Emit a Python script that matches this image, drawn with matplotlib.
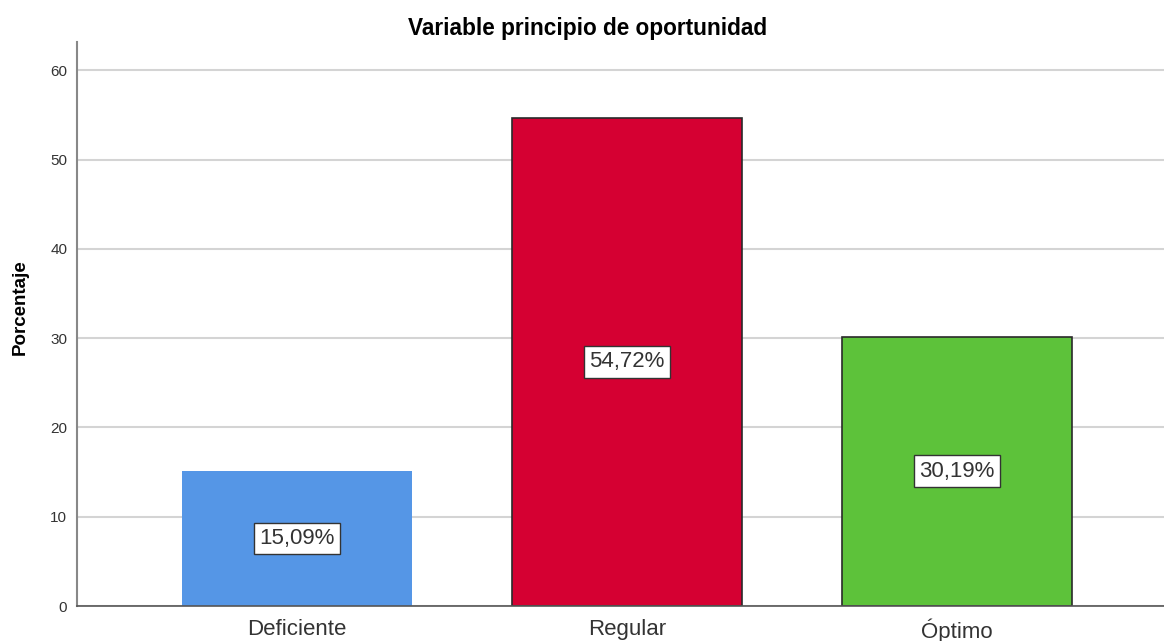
import matplotlib
matplotlib.use("Agg")
import matplotlib.pyplot as plt

# datos
categorias = ["Deficiente", "Regular", "Óptimo"]
porcentajes = [15.09, 54.72, 30.19]
etiquetas = ["15,09%", "54,72%", "30,19%"]
colores = ["#5596e6", "#d50032", "#5dc23a"]
bordes = ["none", "#2a2a2a", "#2a2a2a"]
yticks = [0, 10, 20, 30, 40, 50, 60]

plt.rcParams["font.family"] = ["Liberation Sans", "DejaVu Sans"]

fig = plt.figure(figsize=(11.64, 6.41), dpi=100)
ax = fig.add_axes([0.0662, 0.0546, 0.9338, 0.88])

x = range(len(categorias))
ax.set_axisbelow(True)
ax.yaxis.grid(True, color="#d4d4d4", linewidth=1.5)
bars = ax.bar(x, porcentajes, width=0.697, color=colores, edgecolor=bordes, linewidth=1.2, zorder=2)

for xi, v, t in zip(x, porcentajes, etiquetas):
    ax.text(xi, v / 2, t, ha="center", va="center", fontsize=16, color="#333333", zorder=3,
            bbox=dict(boxstyle="square,pad=0.24", facecolor="white", edgecolor="#333333", linewidth=1))

ax.set_xlim(-0.667, 2.627)
ax.set_ylim(0, 63.2)
ax.set_yticks(yticks)
ax.set_xticks(list(x))
ax.set_xticklabels(categorias, fontsize=16, color="#333333")
ax.tick_params(axis="y", labelsize=11, length=0, pad=7, labelcolor="#333333")
ax.tick_params(axis="x", length=0, pad=9)

for s in ["top", "right"]:
    ax.spines[s].set_visible(False)
ax.spines["left"].set_color("#888888")
ax.spines["bottom"].set_color("#555555")
ax.spines["left"].set_linewidth(1.5)
ax.spines["bottom"].set_linewidth(1.2)

ax.set_ylabel("Porcentaje", fontsize=13.5, fontweight="bold")
ax.yaxis.set_label_coords(-0.0445, 0.53)
fig.text(0.505, 0.955, "Variable principio de oportunidad", fontsize=16.3, fontweight="bold",
         ha="center", va="center")

plt.savefig("out.png", dpi=100)
